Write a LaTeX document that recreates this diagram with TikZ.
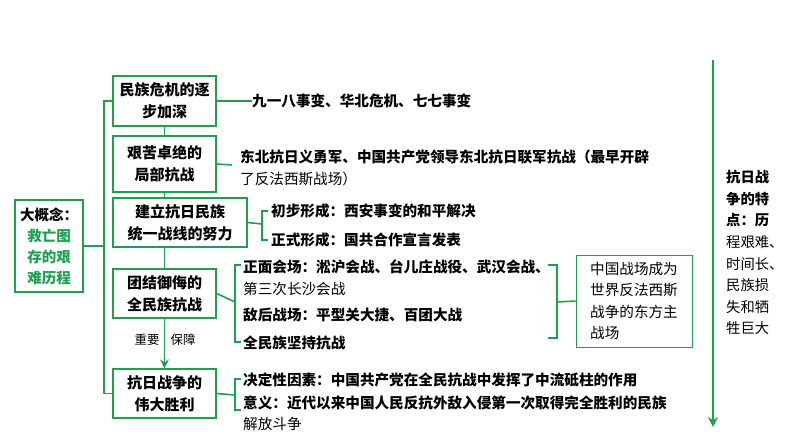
\documentclass[tikz,border=0pt]{standalone}
\usepackage{fontspec}
\setmainfont{Noto Sans CJK SC}
\usetikzlibrary{arrows.meta}
\definecolor{gr}{RGB}{30,160,80}
\begin{document}
\begin{tikzpicture}[x=1pt,y=-1pt,
  gline/.style={draw=gr,line width=1.6pt},
  gbox/.style={draw=gr,line width=1.2pt,align=center,inner sep=0pt,font=\fontsize{15}{22}\selectfont\bfseries},
  txt/.style={anchor=west,inner sep=0pt,font=\fontsize{14.6}{22}\selectfont\bfseries},
  ntxt/.style={anchor=west,inner sep=0pt,font=\fontsize{14.6}{22}\selectfont}]
\useasboundingbox (0,0) rectangle (794,447);
\node[gbox,minimum width=68pt,minimum height=92pt,font=\fontsize{14.5}{21}\selectfont\bfseries] (big) at (49,246) {大概念：\\\textcolor{gr}{救亡图}\\\textcolor{gr}{存的艰}\\\textcolor{gr}{难历程}};
\node[gbox,minimum width=103pt,minimum height=50pt] (b1) at (164.5,101) {民族危机的逐\\步加深};
\node[gbox,minimum width=103pt,minimum height=56pt] (b2) at (164.5,164) {艰苦卓绝的\\局部抗战};
\node[gbox,minimum width=134pt,minimum height=49pt] (b3) at (180,222.5) {建立抗日民族\\统一战线的努力};
\node[gbox,minimum width=103pt,minimum height=49pt] (b4) at (164.5,293.5) {团结御侮的\\全民族抗战};
\node[gbox,minimum width=103pt,minimum height=49pt] (b5) at (164.5,393.5) {抗日战争的\\伟大胜利};
% main bracket
\coordinate (mt) at (104,101); \coordinate (mb) at (104,393.5);
\draw[gline] (b1.west) -- (mt) -- (mb) -- (b5.west);
\draw[gline] (big.east) -- (104,246);
\draw[gline] (b1.south -| 164.5,0) -- (b2.north -| 164.5,0);
\draw[gline] (b2.south) -- (b2.south |- b3.north);
\draw[gline] (b3.south -| 164.5,0) -- (b4.north);
\draw[gline,-{Stealth[length=9pt,width=9pt]}] (b4.south) -- (b5.north);
\node[inner sep=0pt,font=\fontsize{12.5}{13}\selectfont] (l1) at (147,340) {重要};
\node[inner sep=0pt,font=\fontsize{12.5}{13}\selectfont] (l2) at (183,340) {保障};
% b1
\node[txt] (t1) at (252,101) {九一八事变、华北危机、七七事变};
\draw[gline] (b1.east) -- (t1.west);
% b2
\node[txt,align=left] (t2) at (240,168) {东北抗日义勇军、中国共产党领导东北抗日联军抗战（最早开辟\\\mdseries 了反法西斯战场）};
\draw[gline] (b2.east) -- (232,165);
% b3
\draw[gline] (b3.east) -- (262,224);
\draw[gline] (268,211) -- (262,211) -- (262,240) -- (268,240);
\node[txt] (t31) at (271,211) {初步形成：西安事变的和平解决};
\node[txt] (t32) at (271,240) {正式形成：国共合作宣言发表};
% b4
\draw[gline] (b4.east) -- (235,302);
\draw[gline] (241,265) -- (235,265) -- (235,342) -- (241,342);
\node[txt] (t41) at (243,267) {正面会场：淞沪会战、台儿庄战役、武汉会战、};
\node[ntxt] (t42) at (243,289) {第三次长沙会战};
\node[txt] (t43) at (243,315) {敌后战场：平型关大捷、百团大战};
\node[txt] (t44) at (243,343) {全民族坚持抗战};
\draw[gline] (548,265) -- (557,265) -- (557,338) -- (548,338);
\node[draw=gr,line width=1pt,minimum width=116pt,minimum height=92pt,inner sep=0pt,align=left,font=\fontsize{14.6}{21.5}\selectfont] (side) at (634,301) {中国战场成为\\世界反法西斯\\战争的东方主\\战场};
\draw[gline] (557,302) -- (side.west);
% b5
\draw[gline] (b5.east) -- (235,395);
\draw[gline] (241,379) -- (235,379) -- (235,410) -- (241,410);
\node[txt] (t51) at (243,380) {决定性因素：中国共产党在全民抗战中发挥了中流砥柱的作用};
\node[txt] (t52) at (243,403) {意义：近代以来中国人民反抗外敌入侵第一次取得完全胜利的民族};
\node[ntxt] (t53) at (243,424) {解放斗争};
% right arrow
\coordinate (at) at (713,60); \coordinate (ab) at (713,427);
\draw[gline,-{Stealth[length=10pt,width=10pt]}] (at) -- (ab);
\node[anchor=north west,inner sep=0pt,align=left,font=\fontsize{14.3}{21.6}\selectfont] (rt) at (726,170) {\textbf{抗日战}\\\textbf{争的特}\\\textbf{点：历}\\程艰难、\\时间长、\\民族损\\失和牺\\牲巨大};
\end{tikzpicture}
\end{document}
